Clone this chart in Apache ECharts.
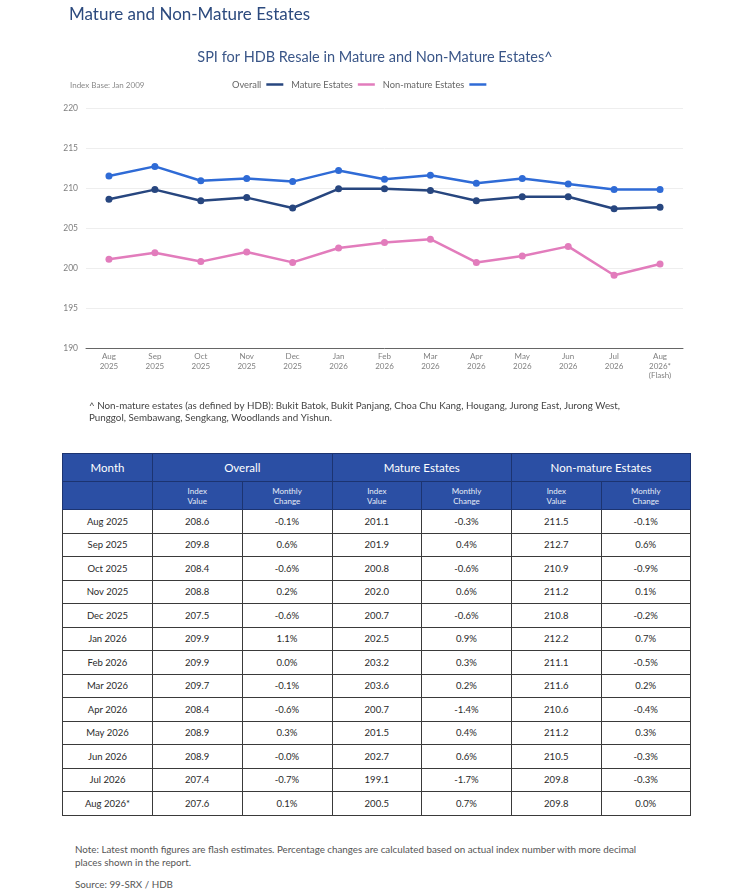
<!DOCTYPE html>
<html>
<head>
<meta charset="utf-8">
<script src="https://cdn.jsdelivr.net/npm/echarts@6/dist/echarts.min.js"></script>
<style>
  body { margin: 0; background: #fff; font-family: Lato, "Noto Sans", sans-serif; }
  .page { position: relative; width: 750px; height: 896px; }
  #chart { position: absolute; left: 0; top: 0; width: 750px; height: 430px; }
  .tbl {
    position: absolute; left: 62px; top: 453px; width: 628px;
    border-collapse: collapse; table-layout: fixed;
  }
  .tbl th {
    background: #2b4fa4; color: #fff; font-weight: normal;
    border: 1px solid #1c3471; text-align: center; padding: 0;
  }
  .tbl .h1 th { height: 27px; font-size: 11.5px; }
  .tbl .h2 th { height: 27px; font-size: 8px; line-height: 10px; color: #e6ecf8; }
  .tbl td {
    border: 1px solid #3a3a3a; height: 22.5px; padding: 0;
    text-align: center; font-size: 9.5px; color: #2a2a2a;
  }
  .note { position: absolute; left: 75px; top: 843px; width: 578px; font-size: 9.8px; line-height: 12.5px; color: #555; }
  .src { position: absolute; left: 75px; top: 878px; font-size: 9.8px; color: #555; }
</style>
</head>
<body>
<div class="page">
  <div id="chart"></div>
  <table class="tbl" id="tbl"></table>
  <div class="note">Note: Latest month figures are flash estimates. Percentage changes are calculated based on actual index number with more decimal places shown in the report.</div>
  <div class="src">Source: 99-SRX / HDB</div>
</div>
<script>
// months shown on the axis and in the table
let axisLabels = ['Aug\n2025', 'Sep\n2025', 'Oct\n2025', 'Nov\n2025', 'Dec\n2025', 'Jan\n2026', 'Feb\n2026',
                  'Mar\n2026', 'Apr\n2026', 'May\n2026', 'Jun\n2026', 'Jul\n2026', 'Aug\n2026*\n(Flash)'];
let tableMonths = ['Aug 2025', 'Sep 2025', 'Oct 2025', 'Nov 2025', 'Dec 2025', 'Jan 2026', 'Feb 2026',
                   'Mar 2026', 'Apr 2026', 'May 2026', 'Jun 2026', 'Jul 2026', 'Aug 2026*'];

// index values
let overall   = [208.6, 209.8, 208.4, 208.8, 207.5, 209.9, 209.9, 209.7, 208.4, 208.9, 208.9, 207.4, 207.6];
let mature    = [201.1, 201.9, 200.8, 202.0, 200.7, 202.5, 203.2, 203.6, 200.7, 201.5, 202.7, 199.1, 200.5];
let nonMature = [211.5, 212.7, 210.9, 211.2, 210.8, 212.2, 211.1, 211.6, 210.6, 211.2, 210.5, 209.8, 209.8];

// monthly change (kept as text, "-0.0%" is in the source)
let overallChg   = ['-0.1%', '0.6%', '-0.6%', '0.2%', '-0.6%', '1.1%', '0.0%', '-0.1%', '-0.6%', '0.3%', '-0.0%', '-0.7%', '0.1%'];
let matureChg    = ['-0.3%', '0.4%', '-0.6%', '0.6%', '-0.6%', '0.9%', '0.3%', '0.2%', '-1.4%', '0.4%', '0.6%', '-1.7%', '0.7%'];
let nonMatureChg = ['-0.1%', '0.6%', '-0.9%', '0.1%', '-0.2%', '0.7%', '-0.5%', '0.2%', '-0.4%', '0.3%', '-0.3%', '-0.3%', '0.0%'];

let yTicks = { min: 190, max: 220, step: 5 };

let colors = { overall: '#27467f', mature: '#e27cbc', nonMature: '#2f6bd6' };

let myChart = echarts.init(document.getElementById('chart'));

function lineSeries(name, data, color) {
    return {
        name: name,
        type: 'line',
        data: data,
        symbol: 'circle',
        symbolSize: 7,
        itemStyle: { color: color },
        lineStyle: { color: color, width: 2.5 },
        z: 3
    };
}

let option = {
    textStyle: { fontFamily: 'Lato, "Noto Sans", sans-serif' },
    animation: false,
    title: [
        {
            text: 'Mature and Non-Mature Estates',
            left: 64, top: 1,
            textStyle: { fontSize: 17, fontWeight: 'normal', color: '#2c4a7e' }
        },
        {
            text: 'SPI for HDB Resale in Mature and Non-Mature Estates^',
            left: 'center', top: 45,
            textStyle: { fontSize: 14.5, fontWeight: 'normal', color: '#3a5688' }
        },
        {
            text: 'Index Base: Jan 2009',
            left: 65, top: 76,
            textStyle: { fontSize: 8, fontWeight: 'normal', color: '#8a8a8a' }
        },
        {
            text: '^ Non-mature estates (as defined by HDB): Bukit Batok, Bukit Panjang, Choa Chu Kang, Hougang, Jurong East, Jurong West,\nPunggol, Sembawang, Sengkang, Woodlands and Yishun.',
            left: 84, top: 395,
            textStyle: { fontSize: 9.8, lineHeight: 12, fontWeight: 'normal', color: '#444' }
        }
    ],
    legend: {
        left: 227, top: 75,
        align: 'right',
        icon: 'rect',
        itemWidth: 17, itemHeight: 2.5,
        itemGap: 8,
        textStyle: { fontSize: 9.3, color: '#666', padding: [0, 0, 0, 0] },
        data: ['Overall', 'Mature Estates', 'Non-mature Estates']
    },
    grid: { left: 86, right: 67, top: 108, height: 240, containLabel: false },
    xAxis: {
        type: 'category',
        data: axisLabels,
        axisTick: { show: false },
        axisLine: { lineStyle: { color: '#666', width: 1 } },
        axisLabel: { fontSize: 8, lineHeight: 9.5, color: '#808080', margin: 4, interval: 0 }
    },
    yAxis: {
        type: 'value',
        min: yTicks.min, max: yTicks.max, interval: yTicks.step,
        axisLine: { show: false },
        axisTick: { show: false },
        axisLabel: { fontSize: 8.5, color: '#808080', margin: 8 },
        splitLine: { lineStyle: { color: '#eeeeee' } }
    },
    series: [
        lineSeries('Overall', overall, colors.overall),
        lineSeries('Mature Estates', mature, colors.mature),
        lineSeries('Non-mature Estates', nonMature, colors.nonMature)
    ]
};
myChart.setOption(option);

// table under the chart
let colW = [90, 89.5, 90, 89.5, 90, 89.5, 89.5];
let html = '<colgroup>' + colW.map(w => '<col style="width:' + w + 'px">').join('') + '</colgroup>';
html += '<tr class="h1"><th>Month</th><th colspan="2">Overall</th><th colspan="2">Mature Estates</th><th colspan="2">Non-mature Estates</th></tr>';
html += '<tr class="h2"><th></th>';
for (let i = 0; i < 3; i++) html += '<th>Index<br>Value</th><th>Monthly<br>Change</th>';
html += '</tr>';
tableMonths.forEach((m, i) => {
    html += '<tr><td>' + m + '</td>' +
        '<td>' + overall[i].toFixed(1) + '</td><td>' + overallChg[i] + '</td>' +
        '<td>' + mature[i].toFixed(1) + '</td><td>' + matureChg[i] + '</td>' +
        '<td>' + nonMature[i].toFixed(1) + '</td><td>' + nonMatureChg[i] + '</td></tr>';
});
document.getElementById('tbl').innerHTML = html;
</script>
</body>
</html>
